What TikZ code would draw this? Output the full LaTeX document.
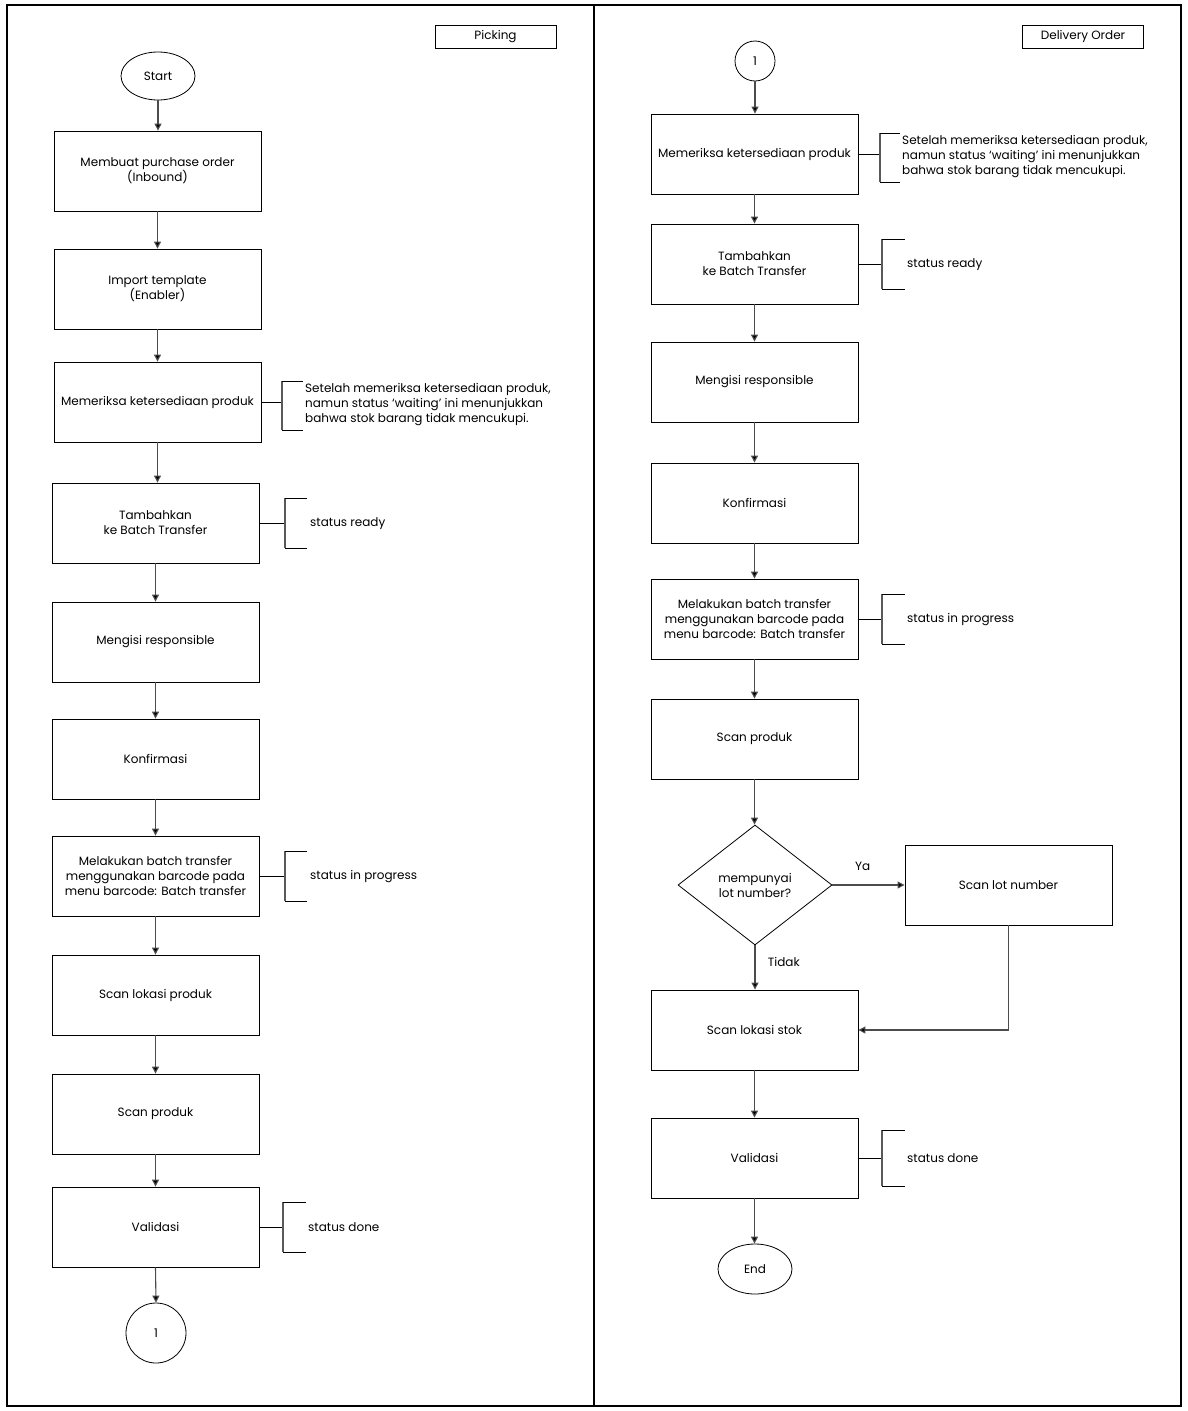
\documentclass[tikz,border=0pt]{standalone}
\usepackage{fontspec}
\setmainfont{Poppins}
\usetikzlibrary{shapes.geometric,arrows.meta}
\begin{document}
\begin{tikzpicture}[x=1pt,y=-1pt,
  every node/.style={font=\fontsize{12}{15}\selectfont},
  box/.style={draw, line width=0.9pt, minimum width=207pt, minimum height=80pt, align=center, inner sep=2pt},
  hdr/.style={draw, line width=0.9pt, minimum width=121pt, minimum height=23pt, inner sep=0pt},
  term/.style={draw, ellipse, line width=0.8pt, inner sep=0pt},
  conn/.style={draw, circle, line width=0.8pt, inner sep=0pt},
  dec/.style={draw, diamond, aspect=1.28, line width=0.8pt, minimum width=154pt, minimum height=120pt, align=center, inner sep=0pt},
  flow/.style={draw=black!70, line width=1.1pt, -{Triangle[length=7pt,width=7pt,fill=black]}},
  tick/.style={draw=black, line width=0.8pt},
  brk/.style={draw=black!65, line width=1.3pt},
  note/.style={anchor=west, align=left, inner sep=0pt}]
\useasboundingbox (0,0) rectangle (1188,1411);
% frame
\draw[line width=1.2pt] (7,5) rectangle (1181,1406);
\draw[line width=1.2pt] (594,5) -- (594,1406);

% ---------- Left: Picking ----------
\node[hdr] (hp) at (495.5,36.5) {Picking};
\node[term, minimum width=74pt, minimum height=48pt] (start) at (158,76) {Start};
\node[box] (b1) at (157.5,171) {Membuat purchase order\\(Inbound)};
\node[box] (b2) at (157.5,289) {Import template\\(Enabler)};
\node[box] (b3) at (157.5,402) {Memeriksa ketersediaan produk};
\node[box] (b4) at (155.5,523) {Tambahkan\\ke Batch Transfer};
\node[box] (b5) at (155.5,642) {Mengisi responsible};
\node[box] (b6) at (155.5,759) {Konfirmasi};
\node[box] (b7) at (155.5,876) {Melakukan batch transfer\\menggunakan barcode pada\\menu barcode: Batch transfer};
\node[box] (b8) at (155.5,995) {Scan lokasi produk};
\node[box] (b9) at (155.5,1114) {Scan produk};
\node[box] (b10) at (155.5,1227) {Validasi};
\node[conn, minimum size=60pt] (c1) at (156,1333) {1};

\draw[flow] (start.south) -- (start.south |- b1.north);
\draw[flow] (b1.south) -- (b1.south |- b2.north);
\draw[flow] (b2.south) -- (b2.south |- b3.north);
\draw[flow] (b3.south) -- (b3.south |- b4.north);
\draw[flow] (b4.south) -- (b4.south |- b5.north);
\draw[flow] (b5.south) -- (b5.south |- b6.north);
\draw[flow] (b6.south) -- (b6.south |- b7.north);
\draw[flow] (b7.south) -- (b7.south |- b8.north);
\draw[flow] (b8.south) -- (b8.south |- b9.north);
\draw[flow] (b9.south) -- (b9.south |- b10.north);
\draw[flow] (b10.south) -- (c1.north);

% annotations left
\coordinate (a3) at (282,402);
\draw[tick] (b3.east) -- (a3);
\draw[brk] (282,381) -- (282,430);
\draw[tick] (282,381) -- (303,381) (282,430) -- (303,430);
\node[note] (n3) at (305,405) {Setelah memeriksa ketersediaan produk,\\namun status `waiting' ini menunjukkan\\bahwa stok barang tidak mencukupi.};

\coordinate (a4) at (285,523);
\draw[tick] (b4.east) -- (a4);
\draw[brk] (285,498) -- (285,548);
\draw[tick] (285,498) -- (307,498) (285,548) -- (307,548);
\node[note] (n4) at (310,524) {status ready};

\coordinate (a7) at (285,876);
\draw[tick] (b7.east) -- (a7);
\draw[brk] (285,851) -- (285,901);
\draw[tick] (285,851) -- (307,851) (285,901) -- (307,901);
\node[note] (n7) at (310,877) {status in progress};

\coordinate (a10) at (283,1227);
\draw[tick] (b10.east) -- (a10);
\draw[brk] (283,1202) -- (283,1252);
\draw[tick] (283,1202) -- (306,1202) (283,1252) -- (306,1252);
\node[note] (n10) at (308,1227) {status done};

% ---------- Right: Delivery Order ----------
\node[hdr] (hd) at (1083,36.5) {Delivery Order};
\node[conn, minimum size=40pt] (c2) at (755,61) {1};
\node[box] (r1) at (754.5,154) {Memeriksa ketersediaan produk};
\node[box] (r2) at (754.5,264) {Tambahkan\\ke Batch Transfer};
\node[box] (r3) at (754.5,382) {Mengisi responsible};
\node[box] (r4) at (754.5,503) {Konfirmasi};
\node[box] (r5) at (754.5,619) {Melakukan batch transfer\\menggunakan barcode pada\\menu barcode: Batch transfer};
\node[box] (r6) at (754.5,739) {Scan produk};
\node[dec] (d1) at (755,885) {mempunyai\\lot number?};
\node[box] (lot) at (1008.5,885) {Scan lot number};
\node[box] (r8) at (754.5,1030) {Scan lokasi stok};
\node[box] (r9) at (754.5,1158) {Validasi};
\node[term, minimum width=74pt, minimum height=50pt] (end) at (755,1269) {End};

\draw[flow] (c2.south) -- (c2.south |- r1.north);
\draw[flow] (r1.south) -- (r1.south |- r2.north);
\draw[flow] (r2.south) -- (r2.south |- r3.north);
\draw[flow] (r3.south) -- (r3.south |- r4.north);
\draw[flow] (r4.south) -- (r4.south |- r5.north);
\draw[flow] (r5.south) -- (r5.south |- r6.north);
\draw[flow] (r6.south) -- (r6.south |- d1.north);
\draw[flow] (d1.east) -- node[above=11pt, pos=0.42] {Ya} (lot.west);
\draw[flow] (d1.south) -- node[right=9pt, pos=0.38] {Tidak} (d1.south |- r8.north);
\draw[flow] (lot.south) |- (r8.east);
\draw[flow] (r8.south) -- (r8.south |- r9.north);
\draw[flow] (r9.south) -- (r9.south |- end.north);

% annotations right
\coordinate (ar1) at (880,154);
\draw[tick] (r1.east) -- (ar1);
\draw[brk] (880,133) -- (880,182);
\draw[tick] (880,133) -- (900,133) (880,182) -- (900,182);
\node[note] (nr1) at (902,157) {Setelah memeriksa ketersediaan produk,\\namun status `waiting' ini menunjukkan\\bahwa stok barang tidak mencukupi.};

\coordinate (ar2) at (882,264);
\draw[tick] (r2.east) -- (ar2);
\draw[brk] (882,239) -- (882,289);
\draw[tick] (882,239) -- (905,239) (882,289) -- (905,289);
\node[note] (nr2) at (907,265) {status ready};

\coordinate (ar5) at (882,619);
\draw[tick] (r5.east) -- (ar5);
\draw[brk] (882,594) -- (882,644);
\draw[tick] (882,594) -- (905,594) (882,644) -- (905,644);
\node[note] (nr5) at (907,620) {status in progress};

\coordinate (ar9) at (882,1158);
\draw[tick] (r9.east) -- (ar9);
\draw[brk] (882,1130) -- (882,1186);
\draw[tick] (882,1130) -- (905,1130) (882,1186) -- (905,1186);
\node[note] (nr9) at (907,1158) {status done};
\end{tikzpicture}
\end{document}
